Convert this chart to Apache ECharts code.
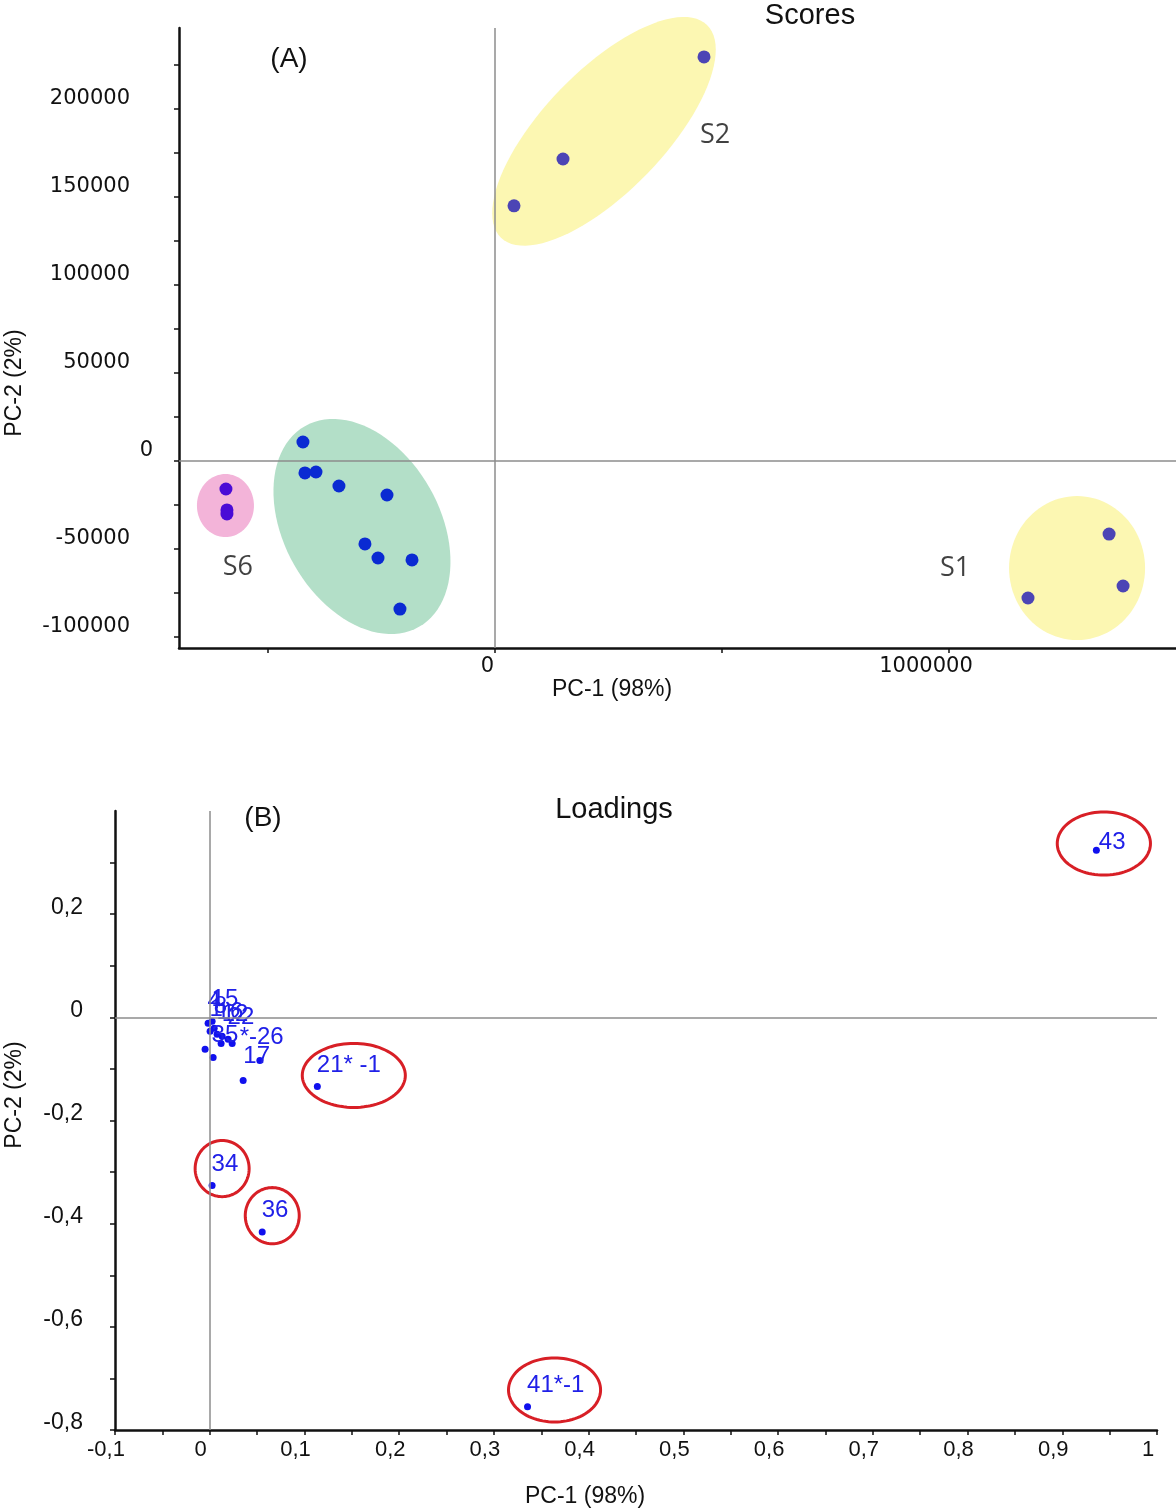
<!DOCTYPE html>
<html><head><meta charset="utf-8">
<script src="https://cdn.jsdelivr.net/npm/echarts@6/dist/echarts.min.js"></script>
<style>html,body{margin:0;padding:0;background:#fff}#c{width:1176px;height:1512px}</style>
</head><body><div id="c"></div>
<script>
// ================= (A) Scores =================
const scoresS2  = [[41900,144900],[149800,171500],[460400,229500]];
const scoresS1  = [[1174000,-77800],[1352600,-41500],[1383400,-71000]];
const scoresMid = [[-423000,10800],[-418600,-6800],[-394300,-6250],[-343700,-14200],[-237900,-19300],
                   [-286400,-47100],[-257700,-55100],[-182800,-56200],[-209300,-84100]];
const scoresS6  = [[-592600,-15900],[-590400,-27800],[-590400,-30100]];
const scoreGroupNames   = ['S2','S1','S6'];
const scoreGroupLabelAt = [[484700,185200],[1013400,-60800],[-566200,-60200]];
// group ellipses: centre x, centre y, then two conjugate semi-axis vectors (data units)
const scoreEllipses = [
  [240100,187200, 226900,60400, 95600,-23900],
  [1282100,-60800, 149800,0, 0,40900],
  [-293000,-37200, 125600,-57000, -149100,-21900],
  [-593700,-25300, 62800,0, 0,17900]
];
const scoreYLabels = [-100000,-50000,0,50000,100000,150000,200000];
const scoreYTicks  = [-100000,-75000,-50000,-25000,0,25000,50000,75000,100000,125000,150000,175000,200000,225000];
const scoreXLabels = [0,1000000];
const scoreXTicks  = [-500000,0,500000,1000000];

// ================= (B) Loadings =================
const loadLabels = ['43','41*-1','21* -1','34','36','17','4','15','8','1','16','12','22','35','*-26','','',''];
const loadX = [0.936,0.3355,0.1136,0.0025,0.0554,0.0529,-0.0017,0.0025,0.0047,0.0004,0.0078,0.0131,0.0194,0.012,0.0237,-0.0049,0.0036,0.0353];
const loadY = [0.324,-0.755,-0.134,-0.326,-0.416,-0.0835,-0.0117,-0.0078,-0.0214,-0.0272,-0.033,-0.0369,-0.0427,-0.0505,-0.0505,-0.0621,-0.0777,-0.1223];
// highlighted variables: centre x, centre y, radius x, radius y (data units)
const loadCircled = [[0.9439,0.3369,0.0492,0.0612],[0.1521,-0.1126,0.0544,0.0621],[0.0131,-0.2932,0.0285,0.0544],
                     [0.0660,-0.3845,0.0285,0.0544],[0.3640,-0.7223,0.0486,0.0621]];
const loadXLabels = [-0.1,0,0.1,0.2,0.3,0.4,0.5,0.6,0.7,0.8,0.9,1];
const loadXTicks  = [-0.1,-0.05,0,0.05,0.1,0.15,0.2,0.25,0.3,0.35,0.4,0.45,0.5,0.55,0.6,0.65,0.7,0.75,0.8,0.85,0.9,0.95,1];
const loadYLabels = [-0.8,-0.6,-0.4,-0.2,0,0.2];
const loadYTicks  = [-0.8,-0.7,-0.6,-0.5,-0.4,-0.3,-0.2,-0.1,0,0.1,0.2,0.3];

// ---------- styling / layout ----------
const ellipseFill = ['#fcf7b2','#fcf7b2','#b3dfc8','#f3b4d9'];
const labelOffsets = {'43':[6,-16],'17':[-13,-13],'35':[-6,-17],'*-26':[11,-15]};
const ARIAL = '"Liberation Sans", Arial, sans-serif';
const SANS = '"DejaVu Sans", Verdana, sans-serif';

const chart = echarts.init(document.getElementById('c'), null, {renderer:'canvas'});

function ellipsePts(api, cx, cy, ux, uy, vx, vy){
  const pts=[];
  for(let i=0;i<96;i++){const t=i/96*2*Math.PI;
    pts.push(api.coord([cx+ux*Math.cos(t)+vx*Math.sin(t), cy+uy*Math.cos(t)+vy*Math.sin(t)]));}
  return pts;
}
const fmtComma = v => String(+v.toFixed(2)).replace('.',',');
const zeroLines = {
  silent:true, symbol:'none', label:{show:false},
  lineStyle:{color:'#8c8c8c', width:1.5, type:'solid'},
  emphasis:{disabled:true},
  data:[{xAxis:0},{yAxis:0}]
};

const option = {
  animation:false,
  backgroundColor:'#fff',
  grid:[
    {left:179, right:0, top:28, bottom:864},
    {left:115, right:19, top:811, bottom:82}
  ],
  xAxis:[
    {gridIndex:0, type:'value', min:-696000, max:1500000,
     axisLine:{onZero:false, lineStyle:{color:'#111', width:2.5}},
     axisTick:{show:true, length:5, customValues:scoreXTicks, lineStyle:{color:'#111', width:1.5}},
     axisLabel:{show:true, customValues:scoreXLabels, margin:8,
       formatter: v => v===0 ? '{z|0}' : '{m|'+v+'}',
       rich:{z:{fontFamily:SANS,fontSize:21,color:'#111',padding:[0,15,0,0]},
             m:{fontFamily:SANS,fontSize:21,color:'#111',padding:[0,46,0,0]}}},
     splitLine:{show:false}},
    {gridIndex:1, type:'value', min:-0.1, max:1,
     axisLine:{onZero:false, lineStyle:{color:'#111', width:2.5}},
     axisTick:{show:true, length:5, customValues:loadXTicks, lineStyle:{color:'#111', width:1.5}},
     axisLabel:{show:true, customValues:loadXLabels, margin:9, formatter:fmtComma,
       fontFamily:ARIAL, fontSize:22, color:'#111', padding:[0,18,0,0]},
     splitLine:{show:false}}
  ],
  yAxis:[
    {gridIndex:0, type:'value', min:-106200, max:245900,
     axisLine:{onZero:false, lineStyle:{color:'#111', width:2.5}},
     axisTick:{show:true, length:5, customValues:scoreYTicks, lineStyle:{color:'#111', width:1.5}},
     axisLabel:{show:true, customValues:scoreYLabels, margin:26,
       formatter: v => v===0 ? '{z|0}' : '{n|'+String(v)+'}',
       rich:{z:{fontFamily:SANS,fontSize:21,color:'#111',lineHeight:18,verticalAlign:'bottom'},
             n:{fontFamily:SANS,fontSize:21,color:'#111',lineHeight:18,verticalAlign:'bottom',padding:[0,23,0,0]}},
       verticalAlign:'bottom', lineHeight:18},
     splitLine:{show:false}},
    {gridIndex:1, type:'value', min:-0.8, max:0.4,
     axisLine:{onZero:false, lineStyle:{color:'#111', width:2.5}},
     axisTick:{show:true, length:5, customValues:loadYTicks, lineStyle:{color:'#111', width:1.5}},
     axisLabel:{show:true, customValues:loadYLabels, margin:32, formatter:fmtComma,
       fontFamily:ARIAL, fontSize:23, color:'#111', verticalAlign:'bottom', lineHeight:14},
     splitLine:{show:false}}
  ],
  series:[
    {type:'custom', xAxisIndex:0, yAxisIndex:0, z:1, silent:true, clip:false,
     data:scoreEllipses, encode:{x:0,y:1},
     renderItem:(params, api) => {
       const d = scoreEllipses[params.dataIndex];
       return {type:'polygon', shape:{points:ellipsePts(api, ...d)}, style:{fill:ellipseFill[params.dataIndex], stroke:null}};
     }},
    {type:'scatter', xAxisIndex:0, yAxisIndex:0, z:3, symbolSize:13, silent:true,
     itemStyle:{color:'#4c45b5', opacity:1}, data:scoresS2.concat(scoresS1), markLine:zeroLines},
    {type:'scatter', xAxisIndex:0, yAxisIndex:0, z:3, symbolSize:13, silent:true,
     itemStyle:{color:'#0a2ad2', opacity:1}, data:scoresMid},
    {type:'scatter', xAxisIndex:0, yAxisIndex:0, z:3, symbolSize:13, silent:true,
     itemStyle:{color:'#4a0bd6', opacity:1}, data:scoresS6},
    {type:'scatter', xAxisIndex:0, yAxisIndex:0, z:4, symbolSize:0, silent:true,
     data:scoreGroupNames.map((n,i)=>({name:n, value:scoreGroupLabelAt[i]})),
     label:{show:true, position:'inside', formatter:'{b}', fontFamily:'"Open Sans", sans-serif', fontSize:27, color:'#111'}},

    {type:'custom', xAxisIndex:1, yAxisIndex:1, z:4, silent:true, clip:false,
     data:loadCircled, encode:{x:0,y:1},
     renderItem:(params, api) => {
       const d = loadCircled[params.dataIndex];
       return {type:'polygon', shape:{points:ellipsePts(api, d[0], d[1], d[2], 0, 0, d[3])},
               style:{fill:'none', stroke:'#d81f26', lineWidth:3}};
     }},
    {type:'scatter', xAxisIndex:1, yAxisIndex:1, z:3, symbolSize:7, silent:true,
     itemStyle:{color:'#1010ee', opacity:1},
     markLine:zeroLines,
     data:loadX.map((x,i)=>{
       const o = labelOffsets[loadLabels[i]] || [3,-30];
       return {name:loadLabels[i], value:[x, loadY[i]],
         label:{show:loadLabels[i]!=='', position:o, formatter:'{b}', fontFamily:ARIAL, fontSize:24, color:'#2020e8'}};
     })}
  ],
  graphic:[
    {type:'text', x:810, y:16, style:{text:'Scores', font:'29px '+ARIAL, fill:'#111', align:'center', verticalAlign:'middle'}},
    {type:'text', x:289, y:59, style:{text:'(A)', font:'28px '+ARIAL, fill:'#111', align:'center', verticalAlign:'middle'}},
    {type:'text', x:612, y:690, style:{text:'PC-1 (98%)', font:'23px '+ARIAL, fill:'#111', align:'center', verticalAlign:'middle'}},
    {type:'text', x:15, y:383, rotation:Math.PI/2, style:{text:'PC-2 (2%)', font:'23px '+ARIAL, fill:'#111', align:'center', verticalAlign:'middle'}},
    {type:'text', x:614, y:810, style:{text:'Loadings', font:'29px '+ARIAL, fill:'#111', align:'center', verticalAlign:'middle'}},
    {type:'text', x:263, y:818, style:{text:'(B)', font:'28px '+ARIAL, fill:'#111', align:'center', verticalAlign:'middle'}},
    {type:'text', x:585, y:1497, style:{text:'PC-1 (98%)', font:'23px '+ARIAL, fill:'#111', align:'center', verticalAlign:'middle'}},
    {type:'text', x:15, y:1095, rotation:Math.PI/2, style:{text:'PC-2 (2%)', font:'23px '+ARIAL, fill:'#111', align:'center', verticalAlign:'middle'}}
  ]
};
chart.setOption(option);
</script></body></html>
